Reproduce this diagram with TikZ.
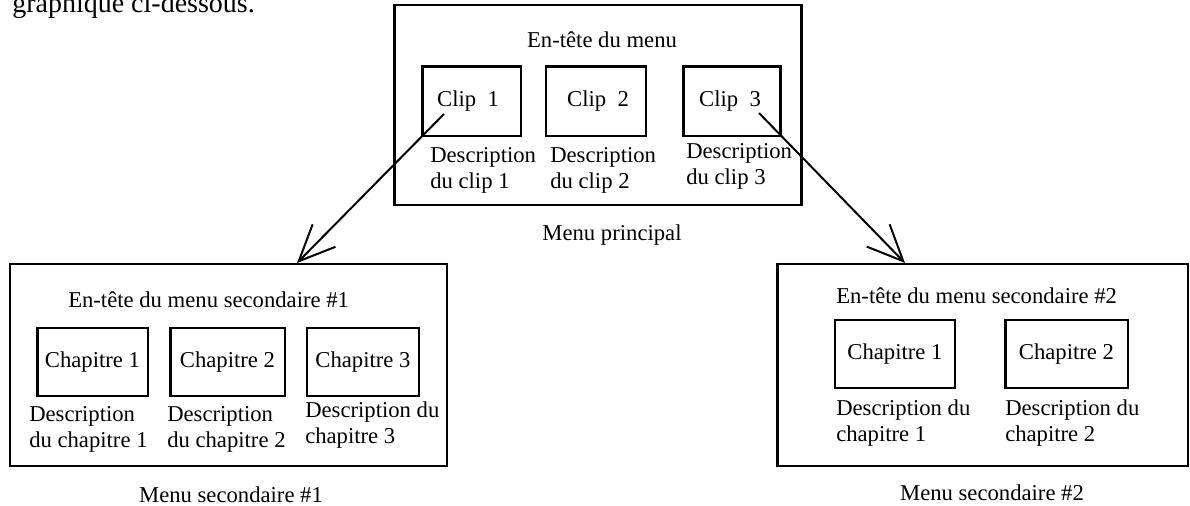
\documentclass[tikz,border=0pt]{standalone}
\usepackage{fontspec}
\setmainfont{Liberation Serif}
\usetikzlibrary{positioning,arrows.meta}

\tikzset{
  menubox/.style={draw,line width=2pt,inner sep=0pt},
  itembox/.style={draw,line width=2pt,inner sep=0pt},
  txt/.style={inner sep=0pt,font=\fontsize{17}{19.5}\selectfont,align=left},
  link/.style={line width=1.5pt,-{Straight Barb[length=27pt,width=24pt,line width=1.5pt]}}
}

\begin{document}
\begin{tikzpicture}[x=0.75pt,y=0.75pt,yscale=-1,xscale=1]
        \useasboundingbox (0,0) rectangle (1190,506);

        % top remnant of text
        \node[inner sep=0pt,anchor=base west,font=\fontsize{21}{24}\selectfont] (intro) at (12,13) {graphique ci-dessous.};

        % main menu
        \node[menubox,minimum width=305pt,minimum height=150pt] (main) at (598,105) {};
        \node[txt] (mainhead) at (602,40) {En-tête du menu};
        \node[itembox,minimum width=74pt,minimum height=52pt] (clipA) at (471.5,101.5) {};
        \node[itembox,minimum width=75pt,minimum height=52pt] (clipB) at (596,101.5) {};
        \node[itembox,minimum width=73pt,minimum height=52pt] (clipC) at (732,101.5) {};
        \node[txt] at (468,101.5) {Clip\ \ 1};
        \node[txt] at (598,101.5) {Clip\ \ 2};
        \node[txt] at (730,101.5) {Clip\ \ 3};
        \node[txt,anchor=north west] (descA) at (430,147) {Description\\du clip 1};
        \node[txt,anchor=north west] (descB) at (550,147) {Description\\du clip 2};
        \node[txt,anchor=north west] (descC) at (686,143) {Description\\du clip 3};
        \node[txt] (mainlabel) at (612,235) {Menu principal};

        % secondary menu 1
        \node[menubox,minimum width=327.75pt,minimum height=151.5pt] (subA) at (228.5,365) {};
        \node[txt,anchor=west] (subAhead) at (68,300) {En-tête du menu secondaire \#1};
        \node[itembox,minimum width=83pt,minimum height=51pt] (chapAA) at (92.5,362) {};
        \node[itembox,minimum width=86pt,minimum height=51pt] (chapAB) at (227.5,362) {};
        \node[itembox,minimum width=84pt,minimum height=51pt] (chapAC) at (363,362) {};
        \node[txt] at (92.5,362) {Chapitre 1};
        \node[txt] at (227.5,362) {Chapitre 2};
        \node[txt] at (363,362) {Chapitre 3};
        \node[txt,anchor=north west] (descAA) at (29,406) {Description\\du chapitre 1};
        \node[txt,anchor=north west] (descAB) at (167,406) {Description\\du chapitre 2};
        \node[txt,anchor=north west] (descAC) at (305,402) {Description du\\chapitre 3};
        \node[txt] (subAlabel) at (231,495) {Menu secondaire \#1};

        % secondary menu 2
        \node[menubox,minimum width=308pt,minimum height=151.5pt] (subB) at (982.5,365) {};
        \node[txt,anchor=west] (subBhead) at (836,296) {En-tête du menu secondaire \#2};
        \node[itembox,minimum width=90pt,minimum height=51pt] (chapBA) at (895,354) {};
        \node[itembox,minimum width=92pt,minimum height=51pt] (chapBB) at (1066.5,354) {};
        \node[txt] at (895,354) {Chapitre 1};
        \node[txt] at (1066.5,354) {Chapitre 2};
        \node[txt,anchor=north west] (descBA) at (836,400) {Description du\\chapitre 1};
        \node[txt,anchor=north west] (descBB) at (1005,400) {Description du\\chapitre 2};
        \node[txt] (subBlabel) at (992,493) {Menu secondaire \#2};

        % links
        \coordinate (fromA) at (444,114);
        \coordinate (toA) at (297,263);
        \coordinate (fromC) at (759,113);
        \coordinate (toC) at (905,263);
        \draw[link] (fromA) -- (toA);
        \draw[link] (fromC) -- (toC);
\end{tikzpicture}
\end{document}
